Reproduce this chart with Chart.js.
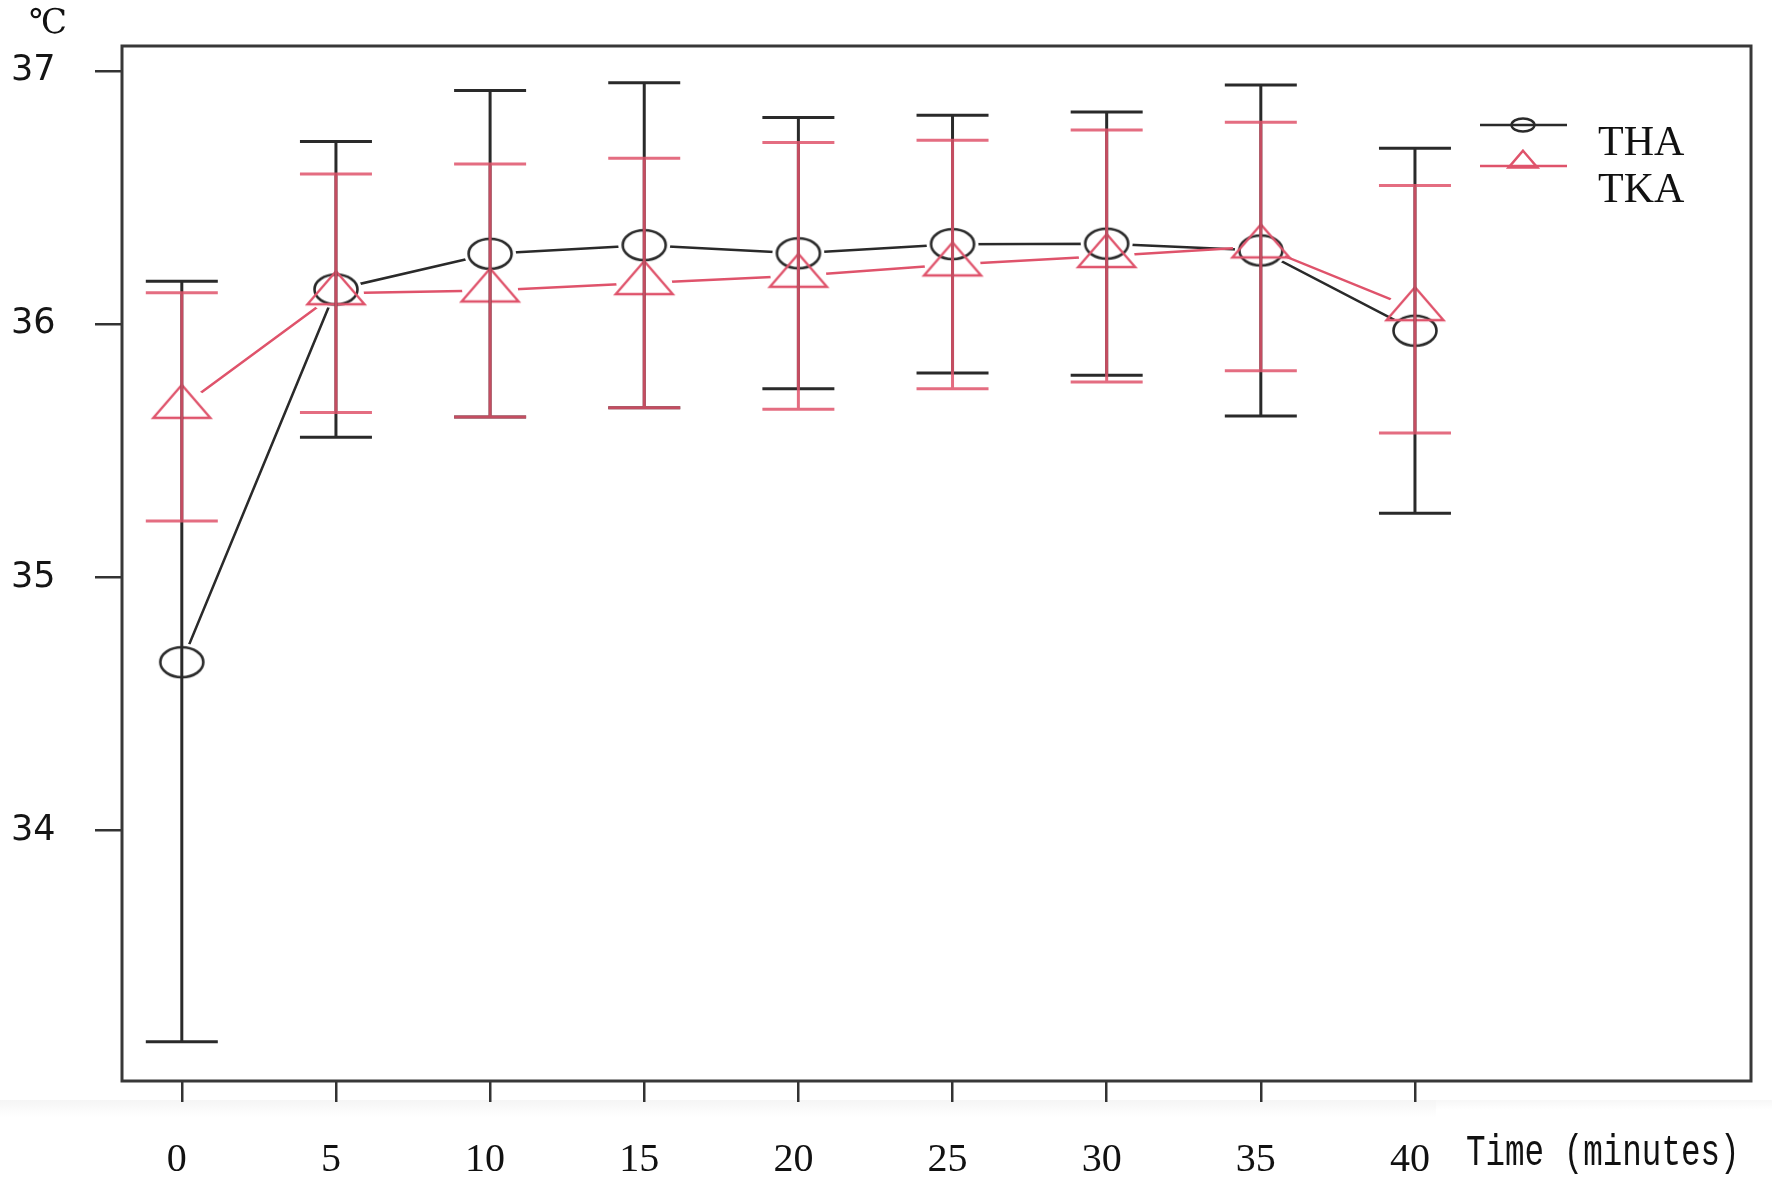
<!DOCTYPE html>
<html>
<head>
<meta charset="utf-8">
<script src="https://cdn.jsdelivr.net/npm/chart.js@4.4.1/dist/chart.umd.min.js"></script>
<style>
  html, body { margin: 0; padding: 0; background: #ffffff; }
  #wrap { width: 1772px; height: 1186px; position: relative; }
</style>
</head>
<body>
<div id="wrap"><canvas id="c" width="1772" height="1186"></canvas></div>
<script>
// ---------- data ----------
const times = [0, 5, 10, 15, 20, 25, 30, 35, 40];
const xTicks = [0, 5, 10, 15, 20, 25, 30, 35, 40];
const yTicks = [34, 35, 36, 37];
const seriesNames = ['THA', 'TKA'];
const thaMean  = [34.665, 36.138, 36.279, 36.313, 36.281, 36.317, 36.319, 36.292, 35.975];
const thaUpper = [36.170, 36.723, 36.924, 36.955, 36.817, 36.826, 36.839, 36.946, 36.696];
const thaLower = [33.165, 35.554, 35.634, 35.670, 35.746, 35.808, 35.799, 35.638, 35.254];
const tkaMean  = [35.674, 36.123, 36.134, 36.163, 36.192, 36.237, 36.270, 36.308, 36.060];
const tkaUpper = [36.125, 36.594, 36.634, 36.656, 36.719, 36.728, 36.768, 36.799, 36.549];
const tkaLower = [35.223, 35.652, 35.634, 35.670, 35.665, 35.746, 35.772, 35.817, 35.571];
const yUnit = '℃';
const xTitle = 'Time (minutes)';

// ---------- styles ----------
const BLACK = '#2a2a2a';
const RED = '#DF536B';

function makeEllipse(w, h, rx, ry, color, lw) {
  const c = document.createElement('canvas');
  c.width = w; c.height = h;
  const g = c.getContext('2d');
  g.strokeStyle = color; g.lineWidth = lw;
  g.beginPath(); g.ellipse(w / 2, h / 2, rx, ry, 0, 0, Math.PI * 2); g.stroke();
  return c;
}
function makeTriangle(w, h, halfBase, height, color, lw) {
  // centroid placed at canvas center
  const c = document.createElement('canvas');
  c.width = w; c.height = h;
  const g = c.getContext('2d');
  g.strokeStyle = color; g.lineWidth = lw; g.lineJoin = 'miter';
  const cx = w / 2, cy = h / 2;
  const apex = cy - height * 2 / 3, base = cy + height / 3;
  g.beginPath();
  g.moveTo(cx, apex); g.lineTo(cx + halfBase, base); g.lineTo(cx - halfBase, base); g.closePath();
  g.stroke();
  return c;
}
const circleMark = makeEllipse(50, 38, 21.5, 15, BLACK, 2.6);
const triMark = makeTriangle(70, 60, 28.5, 33, RED, 2.4);
const circleLegend = makeEllipse(30, 20, 11.5, 6.5, BLACK, 2.4);
const triLegend = makeTriangle(40, 30, 14.5, 17, RED, 2.4);

const toXY = (ys) => times.map((t, i) => ({ x: t, y: ys[i] }));

const decor = {
  id: 'decor',
  beforeDraw(chart) {
    const ctx = chart.ctx;
    ctx.save();
    ctx.fillStyle = '#ffffff';
    ctx.fillRect(0, 0, chart.width, chart.height);
    const g1 = ctx.createLinearGradient(0, 1100, 0, 1117);
    g1.addColorStop(0, '#f5f5f5'); g1.addColorStop(1, '#ffffff');
    ctx.fillStyle = g1; ctx.fillRect(0, 1100, 1436, 17);
    const g2 = ctx.createLinearGradient(0, 1100, 0, 1110);
    g2.addColorStop(0, '#f7f7f7'); g2.addColorStop(1, '#ffffff');
    ctx.fillStyle = g2; ctx.fillRect(1436, 1100, 336, 10);
    ctx.restore();
  },
  beforeDatasetDraw(chart, args) {
    const ds = chart.data.datasets[args.index];
    if (!ds.holes) return;
    const ctx = chart.ctx;
    ctx.save();
    ctx.beginPath();
    ctx.rect(0, 0, chart.width, chart.height);
    args.meta.data.forEach(p => {
      ctx.moveTo(p.x + ds.holes[0], p.y);
      ctx.ellipse(p.x, p.y, ds.holes[0], ds.holes[1], 0, 0, Math.PI * 2);
    });
    ctx.clip('evenodd');
  },
  afterDatasetDraw(chart, args) {
    const ds = chart.data.datasets[args.index];
    if (!ds.holes) return;
    chart.ctx.restore();
  },
  afterDatasetsDraw(chart) {
    const ctx = chart.ctx;
    const xs = chart.scales.x, ys = chart.scales.y;
    const cap = 36;
    function bars(up, lo, color, alpha) {
      ctx.save();
      ctx.globalAlpha = alpha;
      ctx.strokeStyle = color; ctx.lineWidth = 3; ctx.lineCap = 'butt';
      times.forEach((t, i) => {
        const x = xs.getPixelForValue(t);
        const y1 = ys.getPixelForValue(up[i]);
        const y2 = ys.getPixelForValue(lo[i]);
        ctx.beginPath();
        ctx.moveTo(x, y1); ctx.lineTo(x, y2);
        ctx.moveTo(x - cap, y1); ctx.lineTo(x + cap, y1);
        ctx.moveTo(x - cap, y2); ctx.lineTo(x + cap, y2);
        ctx.stroke();
      });
      ctx.restore();
    }
    bars(thaUpper, thaLower, BLACK, 1);
    bars(tkaUpper, tkaLower, RED, 0.85);
  },
  afterDraw(chart) {
    const ctx = chart.ctx;
    const a = chart.chartArea;
    ctx.save();
    // plot box
    ctx.strokeStyle = '#383838'; ctx.lineWidth = 3;
    ctx.strokeRect(a.left, a.top, a.right - a.left, a.bottom - a.top);
    // unit label
    ctx.fillStyle = '#111';
    ctx.font = '34px "DejaVu Serif", "Noto Sans CJK SC", serif';
    ctx.textAlign = 'center'; ctx.textBaseline = 'middle';
    ctx.fillText(yUnit, 48, 24);
    // x-axis title
    ctx.save();
    ctx.font = '44px "Liberation Mono", monospace';
    ctx.textAlign = 'left'; ctx.textBaseline = 'middle';
    ctx.translate(1466, 1153);
    ctx.scale(0.74, 1);
    ctx.fillText(xTitle, 0, 0);
    ctx.restore();
    // legend
    const rows = [
      { label: seriesNames[0], color: BLACK, mark: circleLegend, y: 125, ty: 155 },
      { label: seriesNames[1], color: RED, mark: triLegend, y: 166, ty: 202 }
    ];
    ctx.font = '42px "Liberation Serif", serif';
    ctx.textAlign = 'left'; ctx.textBaseline = 'alphabetic';
    rows.forEach(r => {
      ctx.strokeStyle = r.color; ctx.lineWidth = 2.6;
      ctx.beginPath(); ctx.moveTo(1480, r.y); ctx.lineTo(1567, r.y); ctx.stroke();
      ctx.drawImage(r.mark, 1523 - r.mark.width / 2, r.y - r.mark.height / 2 - (r.mark === triLegend ? 4 : 0));
      ctx.fillStyle = '#111';
      ctx.fillText(r.label, 1598, r.ty);
    });
    ctx.restore();
  }
};

const ctx = document.getElementById('c').getContext('2d');
new Chart(ctx, {
  type: 'line',
  data: {
    datasets: [
      { label: seriesNames[1], data: toXY(tkaMean), showLine: false, pointStyle: triMark,
        pointRadius: 20, borderColor: RED, order: 0 },
      { label: seriesNames[1] + ' line', data: toXY(tkaMean), showLine: true, pointRadius: 0,
        borderColor: RED, borderWidth: 2.5, holes: [28, 20], order: 1 },
      { label: seriesNames[0], data: toXY(thaMean), showLine: false, pointStyle: circleMark,
        pointRadius: 20, borderColor: BLACK, order: 2 },
      { label: seriesNames[0] + ' line', data: toXY(thaMean), showLine: true, pointRadius: 0,
        borderColor: BLACK, borderWidth: 2.5, holes: [26, 19], order: 3 }
    ]
  },
  options: {
    responsive: false,
    animation: false,
    devicePixelRatio: 1,
    layout: { padding: { left: 11, top: 46, right: 17, bottom: 0 } },
    plugins: { legend: { display: false }, tooltip: { enabled: false } },
    elements: { line: { tension: 0 } },
    scales: {
      x: {
        type: 'linear', min: -1.94, max: 50.9,
        afterBuildTicks: (s) => { s.ticks = xTicks.map(v => ({ value: v })); },
        afterFit: (s) => { s.height = 105; },
        border: { display: false },
        grid: { display: true, drawOnChartArea: false, drawTicks: true, tickLength: 21,
                color: '#333', lineWidth: 2.5 },
        ticks: { color: '#111', padding: 34, labelOffset: -5, maxRotation: 0, autoSkip: false,
                 font: { family: '"Liberation Serif", serif', size: 40 } }
      },
      y: {
        min: 33.01, max: 37.10,
        afterBuildTicks: (s) => { s.ticks = yTicks.map(v => ({ value: v })); },
        afterFit: (s) => { s.width = 111; },
        border: { display: false },
        grid: { display: true, drawOnChartArea: false, drawTicks: true, tickLength: 27,
                color: '#333', lineWidth: 2.5 },
        ticks: { color: '#151515', crossAlign: 'far', padding: 0,
                 font: { family: '"DejaVu Sans", sans-serif', size: 35 } }
      }
    }
  },
  plugins: [decor]
});
</script>
</body>
</html>
